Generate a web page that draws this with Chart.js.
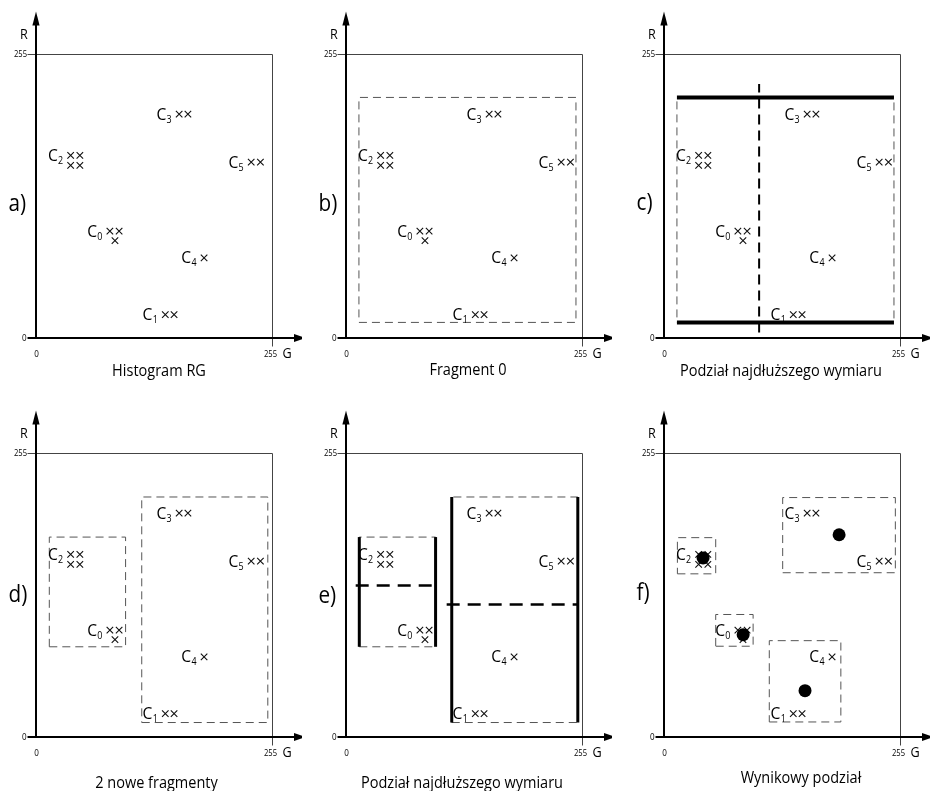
<!DOCTYPE html>
<html>
<head>
<meta charset="utf-8">
<script src="https://cdn.jsdelivr.net/npm/chart.js@4/dist/chart.umd.min.js"></script>
<style>
  html, body { margin: 0; padding: 0; background: #fff; overflow: hidden; }
  #wrap { position: relative; width: 930px; height: 791px; }
  canvas { position: absolute; }
</style>
</head>
<body>
<div id="wrap"></div>
<script>
// ---------------- DATA ----------------
// colour points (G, R) and the cluster they belong to
const crossG = [80, 90, 85.5, 140, 149.5, 37.5, 47.5, 37.5, 47.5, 155, 164.5, 182, 233, 243];
const crossR = [96, 96, 87.5, 21, 21, 164, 164, 155, 155, 201, 201, 72, 158, 158];
const crossCluster = [0, 0, 0, 1, 1, 2, 2, 2, 2, 3, 3, 4, 5, 5];
const clusterIndex = ['0', '1', '2', '3', '4', '5'];

// axis ticks
const tickValues = [0, 255];
const tickLabels = ['0', '255'];

// b) fragment 0
const frag0G = [14, 249];
const frag0R = [14, 216];
// c) split of the longest dimension
const splitC_G = [103, 103];
const splitC_R = [5, 228];
// d) two new fragments
const fragAG = [14.4, 97];
const fragAR = [81, 179.5];
const fragBG = [114.5, 251];
const fragBR = [13, 215.5];
// e) splits
const splitA_G = [10.5, 101];
const splitA_R = [136, 136];
const splitB_G = [109, 250.5];
const splitB_R = [119, 119];
// f) final boxes and their centres
const boxC2G = [14.5, 56],   boxC2R = [146.5, 179];
const boxC0G = [56, 96.5],   boxC0R = [81.5, 110];
const boxC35G = [128.5, 250.5], boxC35R = [147.5, 215];
const boxC14G = [114, 191.5], boxC14R = [13.5, 86.5];
const centreG = [42.3, 85.7, 189.6, 152.7];
const centreR = [160.7, 91.9, 181.6, 41.6];

const letters = ['a)', 'b)', 'c)', 'd)', 'e)', 'f)'];
const captions = ['Histogram RG', 'Fragment 0', 'Podział najdłuższego wymiaru',
                  '2 nowe fragmenty', 'Podział najdłuższego wymiaru', 'Wynikowy podział'];

// ---------------- LAYOUT ----------------
const FONT = '"Open Sans", "DejaVu Sans", sans-serif';
const CW = 302, CH = 395;
const layout = [
  { left: 0,   top: 0,   capX: 159, capY: 371, letterY: 204 },
  { left: 310, top: 0,   capX: 158, capY: 370, letterY: 204 },
  { left: 628, top: 0,   capX: 153, capY: 371, letterY: 203 },
  { left: 0,   top: 399, capX: 156.5, capY: 384, letterY: 196 },
  { left: 310, top: 399, capX: 152, capY: 384.5, letterY: 197 },
  { left: 628, top: 399, capX: 173, capY: 379, letterY: 194 }
];

const THIN = '#555';
function rectPts(g, r) {
  return [{x:g[0],y:r[0]},{x:g[1],y:r[0]},{x:g[1],y:r[1]},{x:g[0],y:r[1]},{x:g[0],y:r[0]}];
}
function seg(g, r) { return [{x:g[0],y:r[0]},{x:g[1],y:r[1]}]; }
function lineDs(pts, width, color, dash) {
  return { data: pts, showLine: true, borderColor: color, borderWidth: width,
           borderDash: dash || [], pointRadius: 0, pointHoverRadius: 0, fill: false,
           tension: 0, clip: false, borderCapStyle: 'butt' };
}
function crossDs() {
  return { data: crossG.map((g, i) => ({x: g, y: crossR[i]})), showLine: false,
           pointStyle: 'crossRot', pointRadius: 4.6, pointHoverRadius: 4.6,
           borderColor: '#111', pointBorderWidth: 1.1, borderWidth: 1.1, clip: false };
}
function centreDs() {
  return { data: centreG.map((g, i) => ({x: g, y: centreR[i]})), showLine: false,
           pointStyle: 'circle', pointRadius: 6.5, pointHoverRadius: 6.5,
           backgroundColor: '#000', borderColor: '#000', borderWidth: 0, clip: false };
}

function panelDatasets(p) {
  const ds = [];
  if (p === 5) ds.push(centreDs());
  ds.push(crossDs());
  if (p === 1) ds.push(lineDs(rectPts(frag0G, frag0R), 1, THIN, [8, 5]));
  if (p === 2) {
    ds.push(lineDs(seg(splitC_G, splitC_R), 2, '#000', [10, 6]));
    ds.push(lineDs(seg(frag0G, [frag0R[1], frag0R[1]]), 4, '#000'));
    ds.push(lineDs(seg(frag0G, [frag0R[0], frag0R[0]]), 4, '#000'));
    ds.push(lineDs(rectPts(frag0G, frag0R), 1, THIN, [8, 5]));
  }
  if (p === 3) {
    ds.push(lineDs(rectPts(fragAG, fragAR), 1, THIN, [8, 5]));
    ds.push(lineDs(rectPts(fragBG, fragBR), 1, THIN, [8, 5]));
  }
  if (p === 4) {
    ds.push(lineDs(seg(splitA_G, splitA_R), 2.5, '#000', [13, 8]));
    ds.push(lineDs(seg(splitB_G, splitB_R), 2.5, '#000', [13, 8]));
    ds.push(lineDs(seg([fragAG[0], fragAG[0]], fragAR), 3, '#000'));
    ds.push(lineDs(seg([fragAG[1], fragAG[1]], fragAR), 3, '#000'));
    ds.push(lineDs(seg([fragBG[0], fragBG[0]], fragBR), 3, '#000'));
    ds.push(lineDs(seg([fragBG[1], fragBG[1]], fragBR), 3, '#000'));
    ds.push(lineDs(rectPts(fragAG, fragAR), 1, THIN, [8, 5]));
    ds.push(lineDs(rectPts(fragBG, fragBR), 1, THIN, [8, 5]));
  }
  if (p === 5) {
    ds.push(lineDs(rectPts(boxC2G, boxC2R), 1, THIN, [8, 5]));
    ds.push(lineDs(rectPts(boxC0G, boxC0R), 1, THIN, [8, 5]));
    ds.push(lineDs(rectPts(boxC35G, boxC35R), 1, THIN, [8, 5]));
    ds.push(lineDs(rectPts(boxC14G, boxC14R), 1, THIN, [8, 5]));
  }
  return ds;
}

function txt(ctx, s, x, y, size, align, baseline, sx, color) {
  ctx.save();
  ctx.font = size + 'px ' + FONT;
  ctx.fillStyle = color || '#000';
  ctx.textAlign = align;
  ctx.textBaseline = baseline;
  ctx.translate(x, y);
  ctx.scale(sx, 1);
  ctx.fillText(s, 0, 0);
  ctx.restore();
}

const decor = {
  id: 'decor',
  beforeDatasetsDraw(chart) {
    const o = chart.options.plugins.decor;
    const ctx = chart.ctx, xs = chart.scales.x, ys = chart.scales.y;
    const x0 = xs.getPixelForValue(tickValues[0]), x1 = xs.getPixelForValue(tickValues[1]);
    const y0 = ys.getPixelForValue(tickValues[0]), y1 = ys.getPixelForValue(tickValues[1]);
    ctx.save();
    // frame 0..255
    ctx.strokeStyle = '#444'; ctx.lineWidth = 1;
    ctx.beginPath();
    ctx.moveTo(x0 - 8.5, Math.round(y1) + 0.5);
    ctx.lineTo(Math.round(x1) + 0.5, Math.round(y1) + 0.5);
    ctx.lineTo(Math.round(x1) + 0.5, y0 + 8.5);
    ctx.stroke();
    // axes
    ctx.strokeStyle = '#000'; ctx.fillStyle = '#000'; ctx.lineWidth = 2;
    ctx.beginPath();
    ctx.moveTo(x0 - 8.5, y0); ctx.lineTo(x0 + 262, y0);
    ctx.moveTo(x0, y0); ctx.lineTo(x0, y1 - 30);
    ctx.stroke();
    // arrow heads
    ctx.beginPath();
    ctx.moveTo(x0 + 270, y0); ctx.lineTo(x0 + 258, y0 - 4); ctx.lineTo(x0 + 258, y0 + 4); ctx.closePath();
    ctx.fill();
    ctx.beginPath();
    ctx.moveTo(x0, y1 - 42.5); ctx.lineTo(x0 - 3.6, y1 - 28.5); ctx.lineTo(x0 + 3.6, y1 - 28.5); ctx.closePath();
    ctx.fill();
    ctx.restore();
    // tick labels
    txt(ctx, tickLabels[0], x0 - 9.5, y0, 9.5, 'right', 'middle', 0.85);
    txt(ctx, tickLabels[1], x0 - 9, y1, 9.5, 'right', 'middle', 0.8);
    txt(ctx, tickLabels[0], x0 + 0.5, y0 + 16, 9.5, 'center', 'middle', 0.85);
    txt(ctx, tickLabels[1], x1 - 1, y0 + 16, 9.5, 'center', 'middle', 0.8);
    txt(ctx, 'G', x1 + 15.5, y0 + 16.5, 14, 'center', 'middle', 0.9);
    txt(ctx, 'R', x0 - 12, y1 - 18.5, 14, 'center', 'middle', 0.9);
    // panel letter & caption
    txt(ctx, o.letter, 8.5, o.letterY, 23, 'left', 'middle', 0.9);
    txt(ctx, o.caption, o.capX, o.capY, 16.5, 'center', 'middle', 0.88);
  },
  afterDatasetsDraw(chart) {
    const ctx = chart.ctx, xs = chart.scales.x, ys = chart.scales.y;
    for (let k = 0; k < clusterIndex.length; k++) {
      const i = crossCluster.indexOf(k);
      const px = xs.getPixelForValue(crossG[i]);
      const py = ys.getPixelForValue(crossR[i]);
      ctx.save();
      ctx.font = '10.5px ' + FONT;
      const w = ctx.measureText(clusterIndex[k]).width * 0.85;
      ctx.restore();
      const subRight = px - 7.5;
      txt(ctx, clusterIndex[k], subRight, py + 8.5, 10.5, 'right', 'alphabetic', 0.85);
      txt(ctx, 'C', subRight - w - 0.3, py + 5.5, 17, 'right', 'alphabetic', 0.92);
    }
  }
};

const wrap = document.getElementById('wrap');
layout.forEach((L, p) => {
  const cv = document.createElement('canvas');
  cv.width = CW; cv.height = CH;
  cv.style.left = L.left + 'px'; cv.style.top = L.top + 'px';
  cv.style.width = CW + 'px'; cv.style.height = CH + 'px';
  wrap.appendChild(cv);
  new Chart(cv, {
    type: 'scatter',
    data: { datasets: panelDatasets(p) },
    options: {
      responsive: false,
      animation: false,
      devicePixelRatio: 1,
      events: [],
      layout: { padding: { left: 36, right: CW - 271.5, top: 54, bottom: CH - 338 } },
      scales: {
        x: { type: 'linear', min: tickValues[0], max: tickValues[1], display: false },
        y: { type: 'linear', min: tickValues[0], max: tickValues[1], display: false }
      },
      plugins: {
        legend: { display: false },
        tooltip: { enabled: false },
        decor: { letter: letters[p], caption: captions[p], capX: L.capX, capY: L.capY, letterY: L.letterY }
      }
    },
    plugins: [decor]
  });
});
</script>
</body>
</html>
